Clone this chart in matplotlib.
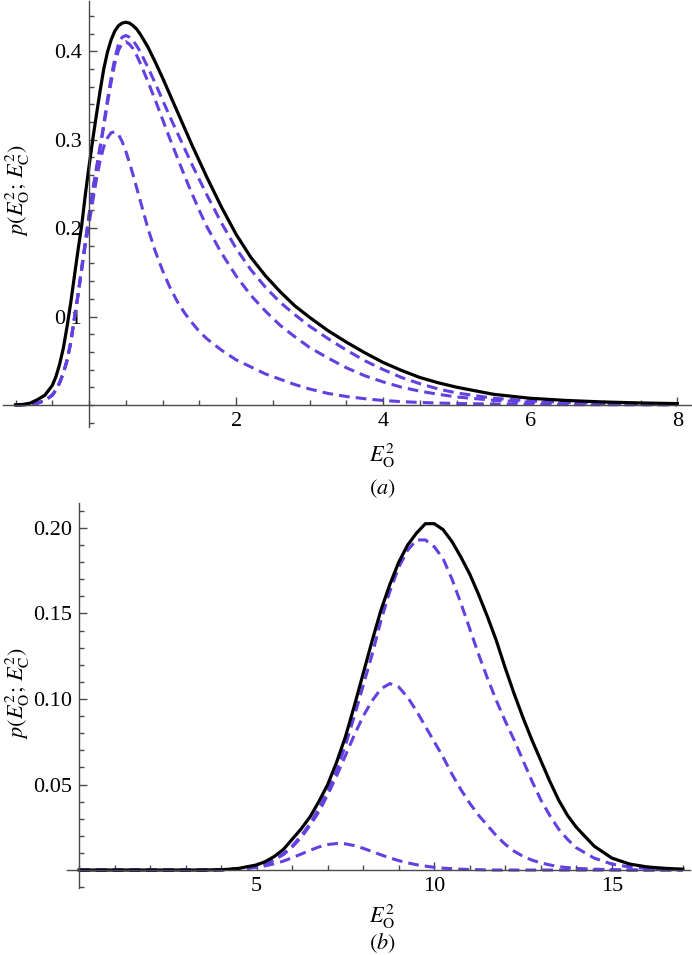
import matplotlib
matplotlib.use("Agg")
import matplotlib.pyplot as plt
from matplotlib.ticker import MultipleLocator, FixedLocator

plt.rcParams["font.family"] = ["Liberation Serif", "DejaVu Serif"]
plt.rcParams["mathtext.fontset"] = "stix"

# panel (a) values
xa = [-1.0, -0.9, -0.8, -0.7, -0.6, -0.5, -0.45, -0.4, -0.35, -0.3, -0.25, -0.2,
      -0.15, -0.1, -0.05, 0.0, 0.05, 0.1, 0.15, 0.2, 0.25, 0.3, 0.35, 0.4, 0.45,
      0.5, 0.55, 0.6, 0.65, 0.7, 0.8, 0.9, 1.0, 1.1, 1.2, 1.3, 1.4, 1.5, 1.6,
      1.8, 2.0, 2.2, 2.4, 2.6, 2.8, 3.0, 3.25, 3.5, 3.75, 4.0, 4.25, 4.5, 4.75,
      5.0, 5.5, 6.0, 6.5, 7.0, 7.5, 8.0]
a_total = [0.0, 0.0005, 0.002, 0.006, 0.011, 0.022, 0.032, 0.046, 0.064, 0.088,
           0.115, 0.145, 0.175, 0.203, 0.238, 0.270, 0.300, 0.328, 0.355, 0.380,
           0.399, 0.413, 0.423, 0.429, 0.432, 0.433, 0.432, 0.429, 0.425, 0.419,
           0.405, 0.388, 0.370, 0.351, 0.332, 0.313, 0.294, 0.276, 0.258, 0.224,
           0.193, 0.167, 0.146, 0.128, 0.112, 0.099, 0.084, 0.071, 0.059, 0.048,
           0.039, 0.031, 0.025, 0.020, 0.012, 0.0075, 0.005, 0.0033, 0.0022, 0.0015]
a_upper = [0.0, 0.0, 0.0005, 0.002, 0.005, 0.011, 0.017, 0.025, 0.036, 0.050,
           0.070, 0.098, 0.125, 0.155, 0.185, 0.215, 0.243, 0.268, 0.292, 0.318,
           0.345, 0.370, 0.392, 0.408, 0.416, 0.418, 0.416, 0.412, 0.406, 0.399,
           0.382, 0.364, 0.345, 0.326, 0.308, 0.290, 0.272, 0.255, 0.238, 0.206,
           0.177, 0.153, 0.133, 0.116, 0.102, 0.089, 0.075, 0.062, 0.050, 0.040,
           0.031, 0.024, 0.018, 0.0135, 0.0075, 0.0045, 0.0028, 0.0017, 0.001, 0.0006]
a_middle = [0.0, 0.0, 0.0005, 0.002, 0.005, 0.011, 0.017, 0.025, 0.036, 0.050,
            0.070, 0.097, 0.124, 0.154, 0.184, 0.213, 0.241, 0.266, 0.290, 0.315,
            0.341, 0.365, 0.386, 0.401, 0.409, 0.411, 0.408, 0.403, 0.395, 0.386,
            0.366, 0.345, 0.323, 0.301, 0.280, 0.259, 0.239, 0.220, 0.202, 0.172,
            0.146, 0.124, 0.106, 0.090, 0.077, 0.065, 0.053, 0.042, 0.033, 0.026,
            0.020, 0.0155, 0.012, 0.009, 0.0052, 0.003, 0.0018, 0.001, 0.0005, 0.0003]
a_lower = [0.0, 0.0, 0.0005, 0.002, 0.005, 0.011, 0.017, 0.025, 0.036, 0.050,
           0.070, 0.097, 0.124, 0.153, 0.181, 0.205, 0.230, 0.255, 0.276, 0.292,
           0.302, 0.308, 0.309, 0.306, 0.298, 0.287, 0.274, 0.260, 0.245, 0.230,
           0.200, 0.174, 0.152, 0.133, 0.117, 0.104, 0.093, 0.083, 0.075, 0.062,
           0.051, 0.043, 0.035, 0.029, 0.023, 0.018, 0.013, 0.0095, 0.007, 0.005,
           0.0037, 0.0028, 0.0021, 0.0016, 0.001, 0.0005, 0.0003, 0.0002, 0.0001, 0.0]

# panel (b) values
xb = [0.0, 1.0, 2.0, 3.0, 3.5, 4.0, 4.25, 4.5, 4.75, 5.0, 5.25, 5.5, 5.75, 6.0,
      6.25, 6.5, 6.75, 7.0, 7.25, 7.5, 7.75, 8.0, 8.25, 8.5, 8.75, 9.0, 9.25,
      9.5, 9.75, 10.0, 10.25, 10.5, 10.75, 11.0, 11.25, 11.5, 11.75, 12.0, 12.25,
      12.5, 12.75, 13.0, 13.25, 13.5, 13.75, 14.0, 14.5, 15.0, 15.5, 16.0, 16.5,
      17.0]
b_total = [0.0, 0.0, 0.0, 0.0, 0.0, 0.0002, 0.0005, 0.001, 0.002, 0.003, 0.005,
           0.008, 0.012, 0.018, 0.024, 0.031, 0.040, 0.050, 0.063, 0.078, 0.096,
           0.115, 0.134, 0.152, 0.167, 0.180, 0.190, 0.197, 0.2025, 0.2025, 0.199,
           0.192, 0.183, 0.173, 0.161, 0.148, 0.134, 0.118, 0.103, 0.089, 0.076,
           0.064, 0.052, 0.041, 0.032, 0.025, 0.014, 0.007, 0.0035, 0.0018, 0.001,
           0.0005]
b_upper = [0.0, 0.0, 0.0, 0.0, 0.0, 0.0001, 0.0003, 0.0007, 0.0012, 0.002, 0.0035,
           0.006, 0.0095, 0.014, 0.020, 0.027, 0.036, 0.046, 0.058, 0.073, 0.090,
           0.108, 0.126, 0.146, 0.163, 0.177, 0.187, 0.193, 0.193, 0.189, 0.182,
           0.170, 0.156, 0.141, 0.126, 0.112, 0.099, 0.087, 0.076, 0.064, 0.052,
           0.041, 0.032, 0.024, 0.018, 0.013, 0.007, 0.0035, 0.0018, 0.0009, 0.0004,
           0.0002]
b_middle = [0.0, 0.0, 0.0, 0.0, 0.0, 0.0001, 0.0003, 0.0007, 0.0012, 0.002, 0.0035,
            0.006, 0.009, 0.0135, 0.019, 0.026, 0.034, 0.044, 0.055, 0.067, 0.079,
            0.090, 0.099, 0.106, 0.109, 0.107, 0.101, 0.093, 0.084, 0.075, 0.066,
            0.056, 0.047, 0.039, 0.032, 0.026, 0.020, 0.015, 0.011, 0.008, 0.0058,
            0.0042, 0.003, 0.002, 0.0014, 0.001, 0.0005, 0.0002, 0.0, 0.0, 0.0, 0.0]
b_lower = [0.0, 0.0, 0.0, 0.0, 0.0, 0.0001, 0.0003, 0.0006, 0.001, 0.0016, 0.0025,
           0.0037, 0.0052, 0.0072, 0.0093, 0.0115, 0.0135, 0.0149, 0.0155, 0.0153,
           0.0143, 0.0127, 0.0108, 0.0089, 0.0071, 0.0055, 0.0042, 0.0031, 0.0023,
           0.0016, 0.0011, 0.0008, 0.0005, 0.0003, 0.0002, 0.0001, 0.0, 0.0, 0.0,
           0.0, 0.0, 0.0, 0.0, 0.0, 0.0, 0.0, 0.0, 0.0, 0.0, 0.0, 0.0, 0.0]

a_yticks = [0.1, 0.2, 0.3, 0.4]
a_xticks = [2, 4, 6, 8]
b_yticks = [0.05, 0.10, 0.15, 0.20]
b_xticks = [5, 10, 15]

W, H = 692, 955
purple = "#6440E0"
axis_col = "#4a4a4a"
dash = (0, (3.5, 2))
ylab = r"$p(E_{\mathrm{O}}^{2};\,E_{\mathrm{C}}^{2})$"
xlab = r"$E_{\mathrm{O}}^{2}$"

fig = plt.figure(figsize=(W / 100, H / 100), dpi=100)


def px_axes(l, t, r, b):
    return fig.add_axes([l / W, 1 - b / H, (r - l) / W, (b - t) / H])


def style(ax, xmaj, xmin, ymaj, ymin, ylabfmt):
    for s in ["top", "right"]:
        ax.spines[s].set_visible(False)
    for s in ["left", "bottom"]:
        ax.spines[s].set_position(("data", 0))
        ax.spines[s].set_color(axis_col)
        ax.spines[s].set_linewidth(1.0)
    ax.xaxis.set_major_locator(FixedLocator(xmaj))
    ax.xaxis.set_minor_locator(MultipleLocator(xmin))
    ax.yaxis.set_major_locator(FixedLocator(ymaj))
    ax.yaxis.set_minor_locator(MultipleLocator(ymin))
    ax.set_yticklabels([ylabfmt.format(v) for v in ymaj])
    ax.tick_params(which="both", direction="in", color=axis_col, width=1.0,
                   labelsize=16, pad=5)
    ax.tick_params(which="major", length=6)
    ax.tick_params(which="minor", length=3.5)
    ax.set_axisbelow(True)
    ax.patch.set_visible(False)


# panel (a)
ax1 = px_axes(3, 1, 692, 427)
ax1.set_xlim(-1.17, 8.2)
ax1.set_ylim(-0.025, 0.457)
for ys in [a_lower, a_middle, a_upper]:
    ax1.plot(xa, ys, color=purple, lw=2.2, ls=dash)
ax1.plot(xa, a_total, color="black", lw=2.3)
style(ax1, a_xticks, 0.5, a_yticks, 0.02, "{:.1f}")

# panel (b)
ax2 = px_axes(67, 503, 690, 888)
ax2.set_xlim(-0.34, 17.2)
ax2.set_ylim(-0.0105, 0.2146)
for ys in [b_lower, b_middle, b_upper]:
    ax2.plot(xb, ys, color=purple, lw=2.2, ls=dash)
ax2.plot(xb, b_total, color="black", lw=2.3)
style(ax2, b_xticks, 1, b_yticks, 0.01, "{:.2f}")

# axis titles and panel letters
for yc in [190, 693]:
    fig.text(18 / W, 1 - yc / H, ylab, rotation=90, ha="center", va="center",
             fontsize=16)
fig.text(382 / W, 1 - 456 / H, xlab, ha="center", va="center", fontsize=16)
fig.text(382 / W, 1 - 489 / H, r"$(a)$", ha="center", va="center", fontsize=16)
fig.text(382 / W, 1 - 917 / H, xlab, ha="center", va="center", fontsize=16)
fig.text(382 / W, 1 - 943 / H, r"$(b)$", ha="center", va="center", fontsize=16)

fig.savefig("out.png", dpi=100)
